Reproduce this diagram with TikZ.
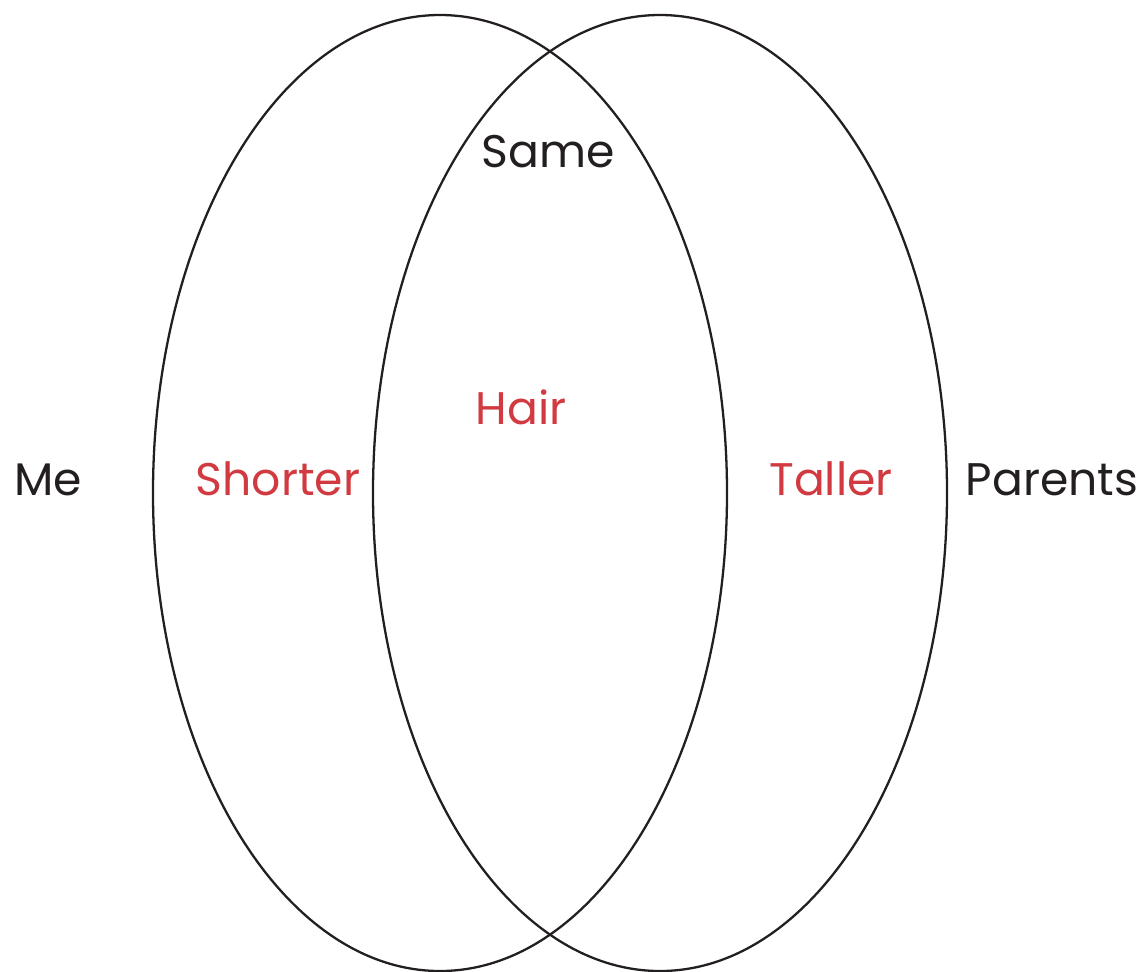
\documentclass[tikz,border=0pt]{standalone}
\usepackage{fontspec}
\setmainfont{Poppins}
\definecolor{vennred}{RGB}{209,58,64}
\definecolor{venngray}{RGB}{35,31,32}
\tikzset{
    setlabel/.style={anchor=base, text=venngray, font=\fontsize{26}{29}\selectfont},
    traitlabel/.style={anchor=base, text=vennred, font=\fontsize{26}{29}\selectfont}
}
\begin{document}
\begin{tikzpicture}[x=0.02cm, y=-0.02cm]
        \useasboundingbox (0,0) rectangle (1145,971);

        % The two sets
        \draw[venngray, line width=1.3pt] (440,493) ellipse (287 and 478);
        \draw[venngray, line width=1.3pt] (660,493) ellipse (287 and 478);

        % Set names
        \node[setlabel] (me) at (48,495) {Me};
        \node[setlabel] (parents) at (1052,495) {Parents};
        \node[setlabel] (same) at (548,167) {Same};

        % Traits
        \node[traitlabel] (shorter) at (278,495) {Shorter};
        \node[traitlabel] (hair) at (521,424) {Hair};
        \node[traitlabel] (taller) at (831,495) {Taller};
    \end{tikzpicture}
\end{document}
